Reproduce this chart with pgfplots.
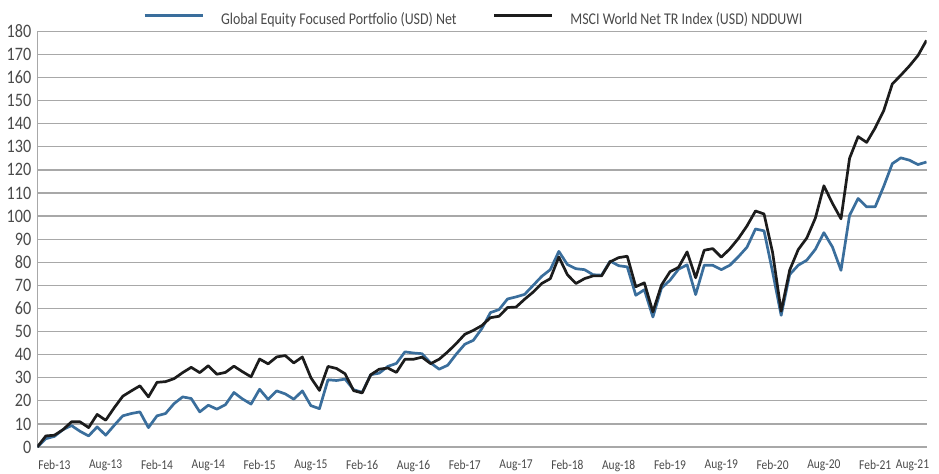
\documentclass[border=0pt]{standalone}
\usepackage{fontspec}
\setmainfont{Carlito}[FakeStretch=0.85]
\usepackage{pgfplots}
\pgfplotsset{compat=1.18}
\usepackage{pgfplotstable}
\definecolor{serA}{HTML}{3A6E9C}
\definecolor{serB}{HTML}{1C1C1C}
\definecolor{gridc}{HTML}{A8A8A8}
\definecolor{txt}{HTML}{4A4A4A}

\pgfplotstableread{
i port msci
0 0 0
1 3.6 4.8
2 4.6 5.1
3 7.5 7.5
4 9.3 10.9
5 6.8 10.9
6 4.8 8.4
7 8.7 14.1
8 5.1 11.6
9 9.4 17
10 13.5 22
11 14.5 24.3
12 15.2 26.5
13 8.4 21.7
14 13.5 28
15 14.5 28.3
16 18.8 29.6
17 21.7 32.2
18 21 34.5
19 15.2 32.2
20 18.1 35.2
21 16.4 31.5
22 18.3 32.3
23 23.6 35
24 20.8 32.6
25 18.6 30.4
26 25 38.1
27 20.6 36
28 24.3 39
29 23 39.6
30 20.7 36.4
31 24.3 39
32 17.9 30
33 16.6 24.5
34 29.1 34.9
35 28.8 34
36 29.4 31.7
37 24.8 24.4
38 23.7 23.4
39 31.3 31.3
40 32 33.7
41 34.9 34.2
42 36.2 32.3
43 41.2 38
44 40.7 38
45 40.4 38.9
46 36.4 36.1
47 33.7 38
48 35.4 41.2
49 40.2 44.8
50 44.5 48.8
51 46.2 50.5
52 51.3 52.6
53 58.2 56
54 59.5 56.6
55 64.1 60.4
56 65 60.6
57 66.1 64
58 70 67.1
59 73.9 70.8
60 76.8 72.9
61 84.7 82.3
62 79 74.6
63 77.2 70.8
64 76.8 72.9
65 74.6 74.1
66 74.4 74.1
67 80.5 80.2
68 78.5 82
69 78 82.6
70 65.7 69.4
71 68.1 71.1
72 56.3 58.5
73 68.8 70.1
74 72.2 75.9
75 77 77.8
76 78.9 84.5
77 66 73.3
78 78.7 85.2
79 78.7 85.9
80 76.8 82.2
81 78.7 85.8
82 82.4 90.3
83 86.5 95.7
84 94.4 102.2
85 93.6 100.9
86 75.8 84.2
87 57 58.8
88 74.7 76.6
89 78.7 85.5
90 80.9 90.5
91 85.6 99.1
92 92.8 113.1
93 86.6 105.5
94 76.5 98.8
95 100.3 125
96 107.6 134.4
97 104 131.9
98 104 138.2
99 112.9 145.7
100 122.7 157.2
101 125.2 161
102 124.2 165
103 122.3 169.5
104 123.4 176.1
}\data

\begin{document}
\begin{tikzpicture}
\begin{axis}[
  scale only axis,
  width=444.6pt, height=207.85pt,
  xmin=0, xmax=104, ymin=0, ymax=180,
  axis lines*=left,
  axis line style={gridc, line width=0.65pt},
  ymajorgrids,
  grid style={gridc, line width=0.65pt},
  ytick={0,10,...,180},
  xtick={2,8,...,98},
  xticklabels={Feb-13,Aug-13,Feb-14,Aug-14,Feb-15,Aug-15,Feb-16,Aug-16,Feb-17,Aug-17,Feb-18,Aug-18,Feb-19,Aug-19,Feb-20,Aug-20,Feb-21},
  extra x ticks={104},
  extra x tick labels={Aug-21},
  extra x tick style={xticklabel style={xshift=-7pt}},
  major tick length=0pt,
  tick style={draw=none},
  /pgf/number format/assume math mode=true,
  yticklabel style={font=\fontsize{9.5}{10}\selectfont, text=txt, inner sep=0pt, xshift=-2.8pt},
  xticklabel style={font=\fontsize{6.75}{7}\selectfont, text=txt, inner sep=0pt, anchor=north, yshift=-6.4pt},
  legend columns=2,
  legend style={draw=none, fill=none, at={(axis description cs:0.1211,1)}, anchor=south west, yshift=-0.5pt, xshift=-4pt,
    font=\fontsize{8.2}{9}\selectfont, text=txt, nodes={inner sep=0pt},
    /tikz/every even column/.append style={column sep=18pt}},
  legend image code/.code={\draw[#1] (0pt,2.6pt) -- (29pt,2.6pt); \path (37.5pt,0pt);},
]
\addplot[serA, line width=1.35pt, line join=round] table[x=i, y=port] {\data};
\addlegendentry{Global Equity Focused Portfolio (USD) Net}
\addplot[serB, line width=1.35pt, line join=round] table[x=i, y=msci] {\data};
\addlegendentry{MSCI World Net TR Index (USD) NDDUWI}
\end{axis}
\pgfresetboundingbox
\path ([shift={(-18.65pt,-13pt)}]current axis.south west) rectangle ([shift={(450.85pt,223.5pt)}]current axis.south west);
\end{tikzpicture}
\end{document}
